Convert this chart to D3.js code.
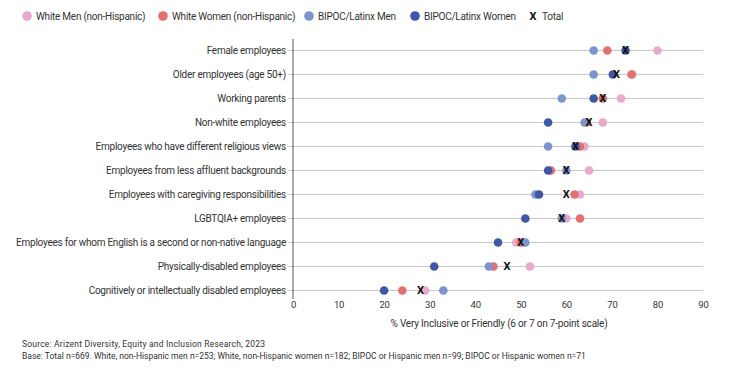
<!DOCTYPE html>
<html>
<head>
<meta charset="utf-8">
<script src="https://cdn.jsdelivr.net/npm/d3@7"></script>
<style>
  body { margin: 0; background: #fff; }
  svg text { font-family: Roboto, "Liberation Sans", sans-serif; fill: #333; }
</style>
</head>
<body>
<svg id="chart" width="740" height="373"></svg>
<script>
var categories = [
    "Female employees",
    "Older employees (age 50+)",
    "Working parents",
    "Non-white employees",
    "Employees who have different religious views",
    "Employees from less affluent backgrounds",
    "Employees with caregiving responsibilities",
    "LGBTQIA+ employees",
    "Employees for whom English is a second or non-native language",
    "Physically-disabled employees",
    "Cognitively or intellectually disabled employees"
];

var whiteMen     = [80, 74.5, 72, 68, 64, 65, 63, 60, 49, 52, 29];
var whiteWomen   = [69, 74.3, 68, 64.5, 63, 56.6, 61.8, 63, 50, 44, 24];
var bipocMen     = [66, 66, 59, 64, 56, 60, 53.2, 59, 51, 43, 33];
var bipocWomen   = [73, 70.2, 66, 56, 62, 56, 54, 51, 45, 31, 20];
var total        = [73, 71, 68, 65, 62, 60, 60, 59, 50, 47, 28];

var xTicks = [0, 10, 20, 30, 40, 50, 60, 70, 80, 90];

var series = [
    {name: "White Men (non-Hispanic)", values: whiteMen, color: "#e8a9cb"},
    {name: "White Women (non-Hispanic)", values: whiteWomen, color: "#e46f6f"},
    {name: "BIPOC/Latinx Men", values: bipocMen, color: "#7d93d0"},
    {name: "BIPOC/Latinx Women", values: bipocWomen, color: "#3e57a6"}
];

var svg = d3.select("#chart");

var x = d3.scaleLinear().domain([0, 90]).range([293, 703]);
var y = d3.scalePoint().domain(categories).range([50.5, 290.5]);

// gridlines
svg.append("g").selectAll("line")
    .data(categories)
    .join("line")
    .attr("x1", 288)
    .attr("x2", 703)
    .attr("y1", function(d){ return y(d); })
    .attr("y2", function(d){ return y(d); })
    .style("stroke", "#c9c9c9")
    .style("stroke-width", 1);

// y axis line
svg.append("line")
    .attr("x1", 293).attr("x2", 293)
    .attr("y1", 39).attr("y2", 299)
    .style("stroke", "#555")
    .style("stroke-width", 1);

// category labels
svg.append("g").selectAll("text")
    .data(categories)
    .join("text")
    .attr("x", 286)
    .attr("y", function(d){ return y(d); })
    .attr("dy", "0.35em")
    .attr("text-anchor", "end")
    .style("font-size", "10px")
    .style("letter-spacing", "-0.25px")
    .text(function(d){ return d; });

// x axis
var xAxis = d3.axisBottom(x).tickValues(xTicks).tickSize(0).tickPadding(0);
var gx = svg.append("g").attr("transform", "translate(0,301)").call(xAxis);
gx.select(".domain").remove();
gx.selectAll("text")
    .attr("dy", "0.71em")
    .style("font-size", "9.5px")
    .style("letter-spacing", "-0.2px")
    .style("font-family", "Roboto, sans-serif")
    .style("fill", "#333");

svg.append("text")
    .attr("x", 499)
    .attr("y", 327)
    .attr("text-anchor", "middle")
    .style("font-size", "10px")
    .style("letter-spacing", "-0.2px")
    .text("% Very Inclusive or Friendly (6 or 7 on 7-point scale)");

// dots
series.forEach(function(s){
    svg.append("g").selectAll("circle")
        .data(s.values)
        .join("circle")
        .attr("cx", function(d){ return x(d); })
        .attr("cy", function(d, i){ return y(categories[i]); })
        .attr("r", 4.3)
        .style("fill", s.color);
});

// total markers
svg.append("g").selectAll("text")
    .data(total)
    .join("text")
    .attr("x", function(d){ return x(d); })
    .attr("y", function(d, i){ return y(categories[i]); })
    .attr("dy", "0.36em")
    .attr("text-anchor", "middle")
    .style("font-size", "11px")
    .style("font-weight", "bold")
    .style("fill", "#111")
    .text("X");

// legend
var legendItems = [
    {name: series[0].name, color: series[0].color, cx: 27},
    {name: series[1].name, color: series[1].color, cx: 163},
    {name: series[2].name, color: series[2].color, cx: 309},
    {name: series[3].name, color: series[3].color, cx: 415},
    {name: "Total", color: null, cx: 533}
];
var legend = svg.append("g").selectAll("g")
    .data(legendItems)
    .join("g")
    .attr("transform", function(d){ return "translate(" + d.cx + ",16)"; });
legend.filter(function(d){ return d.color; })
    .append("circle")
    .attr("r", 4.8)
    .style("fill", function(d){ return d.color; });
legend.filter(function(d){ return !d.color; })
    .append("text")
    .attr("text-anchor", "middle")
    .attr("dy", "0.36em")
    .style("font-size", "11px")
    .style("font-weight", "bold")
    .style("fill", "#111")
    .text("X");
legend.append("text")
    .attr("x", 9)
    .attr("dy", "0.36em")
    .style("font-size", "10px")
    .style("letter-spacing", "-0.25px")
    .text(function(d){ return d.name; });

// footer
svg.append("text")
    .attr("x", 22).attr("y", 347)
    .style("font-size", "8.5px")
    .style("letter-spacing", "0.2px")
    .text("Source: Arizent Diversity, Equity and Inclusion Research, 2023");
svg.append("text")
    .attr("x", 22).attr("y", 359)
    .style("font-size", "8.5px")
    .text("Base: Total n=669. White, non-Hispanic men n=253; White, non-Hispanic women n=182; BIPOC or Hispanic men n=99; BIPOC or Hispanic women n=71");
</script>
</body>
</html>
